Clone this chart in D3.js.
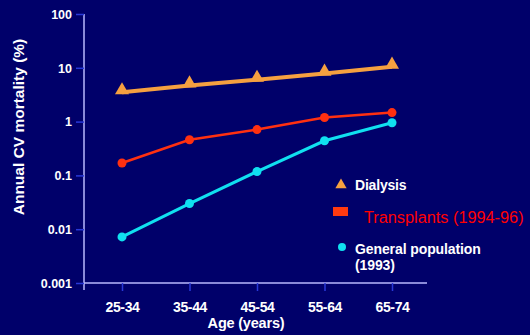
<!DOCTYPE html>
<html><head><meta charset="utf-8">
<script src="https://cdn.jsdelivr.net/npm/d3@7"></script>
<style>
html,body{margin:0;padding:0;background:#00006a;}
svg{display:block;}
</style></head>
<body>
<svg id="c" width="530" height="335"></svg>
<script>
const categories = ["25-34","35-44","45-54","55-64","65-74"];
const dialysis = [3.5, 4.7, 6.0, 7.8, 10.5];
const transplants = [0.17, 0.46, 0.71, 1.19, 1.47];
const generalPop = [0.0072, 0.030, 0.118, 0.44, 0.95];
const yTicks = [100, 10, 1, 0.1, 0.01, 0.001];
const yTickLabels = ["100","10","1","0.1","0.01","0.001"];

const FONT = "Liberation Sans, Arial, sans-serif";
const svg = d3.select("#c");
svg.append("rect").attr("width",530).attr("height",335).attr("fill","#00006a");

const x = d3.scalePoint().domain(categories).range([122,392]);
const y = d3.scaleLog().domain([0.001,100]).range([283,14]);

// axes
const yAxis = svg.append("g").attr("transform","translate(84,0)")
  .call(d3.axisLeft(y).tickValues(yTicks).tickFormat(d=>yTickLabels[yTicks.indexOf(d)]).tickSize(8).tickPadding(4));
yAxis.select(".domain").attr("stroke","#b8b8ff").attr("stroke-width",1.5).attr("d","M0,14V290");
yAxis.selectAll(".tick line").attr("stroke","#2838d8").attr("stroke-width",1.5);
yAxis.selectAll(".tick text").attr("fill","#fff").attr("font-family",FONT)
  .attr("font-weight","bold").attr("font-size","12.5px").attr("dy","0.35em");

const xAxis = svg.append("g").attr("transform","translate(0,283)")
  .call(d3.axisBottom(x).tickSize(8).tickPadding(11));
xAxis.select(".domain").attr("stroke","#b8b8ff").attr("stroke-width",1.5).attr("d","M84,0H427");
xAxis.selectAll(".tick line").attr("stroke","#2838d8").attr("stroke-width",1.5);
xAxis.selectAll(".tick text").attr("fill","#fff").attr("font-family",FONT)
  .attr("font-weight","bold").attr("font-size","14px").attr("letter-spacing","-0.4px");

svg.append("text").attr("x",246).attr("y",328).attr("text-anchor","middle")
  .attr("fill","#fff").attr("font-family",FONT).attr("font-weight","bold")
  .attr("font-size","14.5px").attr("letter-spacing","-0.2px").text("Age (years)");
svg.append("text").attr("transform","translate(24,127) rotate(-90)").attr("text-anchor","middle")
  .attr("fill","#fff").attr("font-family",FONT).attr("font-weight","bold")
  .attr("font-size","15.5px").text("Annual CV mortality (%)");

const line = d3.line().x((d,i)=>x(categories[i])).y(d=>y(d));

// general population
svg.append("path").datum(generalPop).attr("d",line).attr("fill","none").attr("stroke","#10e0f0").attr("stroke-width",3);
svg.selectAll(".gp").data(generalPop).join("circle").attr("cx",(d,i)=>x(categories[i])).attr("cy",d=>y(d))
  .attr("r",4.5).attr("fill","#10e0f0");

// transplants
svg.append("path").datum(transplants).attr("d",line).attr("fill","none").attr("stroke","#ff3010").attr("stroke-width",2.5);
svg.selectAll(".tp").data(transplants).join("circle").attr("cx",(d,i)=>x(categories[i])).attr("cy",d=>y(d))
  .attr("r",4.5).attr("fill","#ff3010");

// dialysis
svg.append("path").datum(dialysis).attr("d",line).attr("fill","none").attr("stroke","#f5a040").attr("stroke-width",4);
const tri = d3.symbol().type(d3.symbolTriangle).size(85);
svg.selectAll(".dl").data(dialysis).join("path").attr("d",tri)
  .attr("transform",(d,i)=>`translate(${x(categories[i])},${y(d)-2})`).attr("fill","#f5a040");

// legend
const lg = svg.append("g");
lg.append("path").attr("d",d3.symbol().type(d3.symbolTriangle).size(55)).attr("transform","translate(341,185)").attr("fill","#f5a040");
lg.append("text").attr("x",355).attr("y",190).attr("fill","#fff").attr("font-family",FONT)
  .attr("font-weight","bold").attr("font-size","14px").attr("letter-spacing","-0.2px").text("Dialysis");
lg.append("rect").attr("x",333).attr("y",207).attr("width",15).attr("height",9).attr("fill","#ff3a10");
lg.append("text").attr("x",364).attr("y",223).attr("fill","#ff0000").attr("font-family",FONT)
  .attr("font-size","16.3px").text("Transplants (1994-96)");
lg.append("circle").attr("cx",342).attr("cy",247).attr("r",4).attr("fill","#10e0f0");
lg.append("text").attr("x",355).attr("y",254).attr("fill","#fff").attr("font-family",FONT)
  .attr("font-weight","bold").attr("font-size","14px").attr("letter-spacing","-0.1px").text("General population");
lg.append("text").attr("x",355).attr("y",270).attr("fill","#fff").attr("font-family",FONT)
  .attr("font-weight","bold").attr("font-size","14px").attr("letter-spacing","-0.1px").text("(1993)");
</script>
</body></html>
